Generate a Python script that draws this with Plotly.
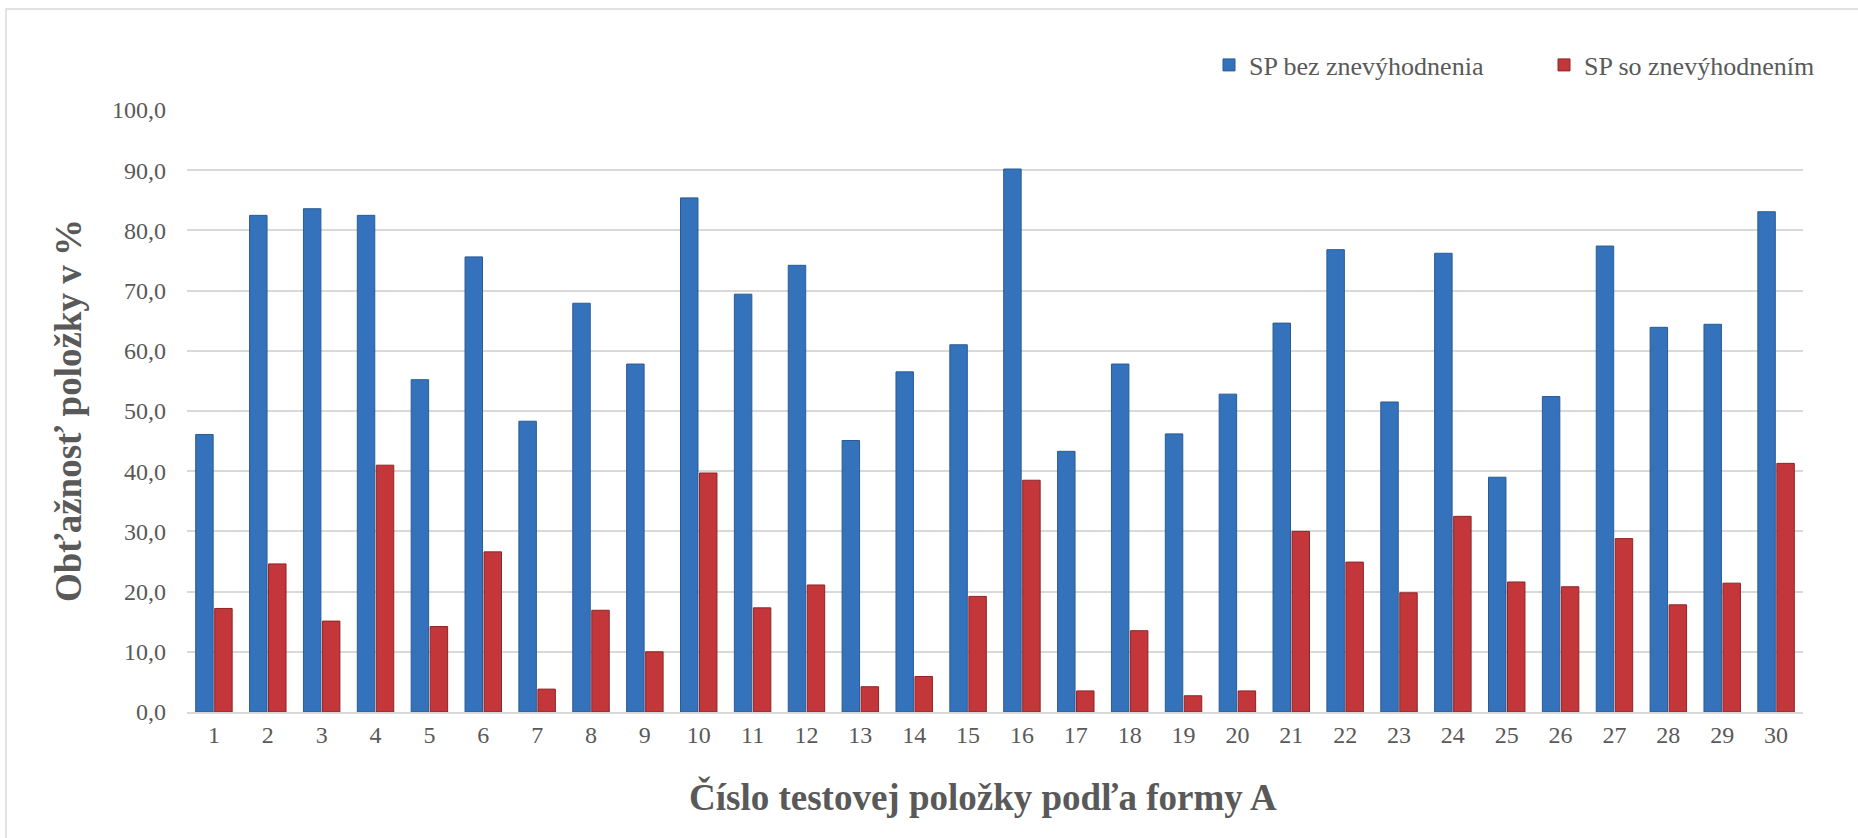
import plotly.graph_objects as go

items = [str(i) for i in range(1, 31)]
sp_bez = [46.1, 82.5, 83.6, 82.5, 55.2, 75.6, 48.3, 67.9, 57.8, 85.4,
          69.4, 74.2, 45.1, 56.5, 61.0, 90.2, 43.3, 57.8, 46.2, 52.8,
          64.6, 76.8, 51.5, 76.2, 39.0, 52.4, 77.4, 63.9, 64.4, 83.1]
sp_so = [17.2, 24.6, 15.1, 41.0, 14.2, 26.6, 3.8, 16.9, 10.0, 39.7,
         17.3, 21.1, 4.2, 5.9, 19.2, 38.5, 3.5, 13.5, 2.7, 3.5,
         30.0, 24.9, 19.8, 32.5, 21.6, 20.8, 28.8, 17.8, 21.4, 41.3]
y_ticks = [0, 10, 20, 30, 40, 50, 60, 70, 80, 90, 100]
x_title = "Číslo testovej položky podľa formy A"
y_title = "Obťažnosť položky v %"

FONT = "Liberation Serif"
GRAY = "#595959"

fig = go.Figure()
fig.add_trace(go.Bar(
    x=items, y=sp_bez, name="SP bez znevýhodnenia",
    marker=dict(color="#3472BB", line=dict(color="#2A5B94", width=1)),
))
fig.add_trace(go.Bar(
    x=items, y=sp_so, name="SP so znevýhodnením",
    marker=dict(color="#C3363A", line=dict(color="#8E2426", width=1)),
))

W, H = 1858, 838
L, R, T, B = 187, 55, 110, 126
pw = W - L - R
ph = H - T - B


def px(xpix):
    return (xpix - L) / pw


def py(ypix):
    return (H - B - ypix) / ph


fig.update_layout(
    width=W, height=H,
    margin=dict(l=L, r=R, t=T, b=B, pad=0, autoexpand=False),
    paper_bgcolor="white", plot_bgcolor="white",
    barmode="group", bargap=0.295, bargroupgap=0.08,
    separators=", ",
    font=dict(family=FONT, color=GRAY, size=24),
    showlegend=True,
    legend=dict(
        orientation="h", xref="container", yref="container",
        x=1209 / W, xanchor="left",
        y=1 - 65 / H, yanchor="middle",
        font=dict(family=FONT, size=26, color=GRAY),
        bgcolor="rgba(0,0,0,0)", entrywidth=290, itemwidth=30,
    ),
    xaxis=dict(
        type="category", showgrid=False, ticks="",
        showline=True, linecolor="#D9D9D9", linewidth=2,
        tickfont=dict(family=FONT, size=24, color=GRAY),
    ),
    yaxis=dict(
        range=[0, 100], tickvals=y_ticks, tickformat=".1f",
        showgrid=True, gridcolor="#D9D9D9", gridwidth=1.5,
        zeroline=False, ticks="", ticklabelstandoff=20,
        tickfont=dict(family=FONT, size=24, color=GRAY),
    ),
    annotations=[
        dict(text=x_title, xref="paper", yref="paper",
             x=px(983), y=py(797), xanchor="center", yanchor="middle",
             showarrow=False,
             font=dict(family=FONT, size=37, color=GRAY, weight="bold")),
        dict(text=y_title, xref="paper", yref="paper", textangle=-90,
             x=px(68), y=0.5, xanchor="center", yanchor="middle",
             showarrow=False,
             font=dict(family=FONT, size=37, color=GRAY, weight="bold")),
    ],
    shapes=[dict(
        type="rect", xref="paper", yref="paper",
        x0=px(6), x1=px(W + 20),
        y0=py(H + 20), y1=py(9),
        line=dict(color="#D9D9D9", width=1.5), fillcolor="rgba(0,0,0,0)",
        layer="below",
    )],
)

fig.write_html("out.html", config={"displayModeBar": False},
               post_script="document.body.style.margin='0px';")
